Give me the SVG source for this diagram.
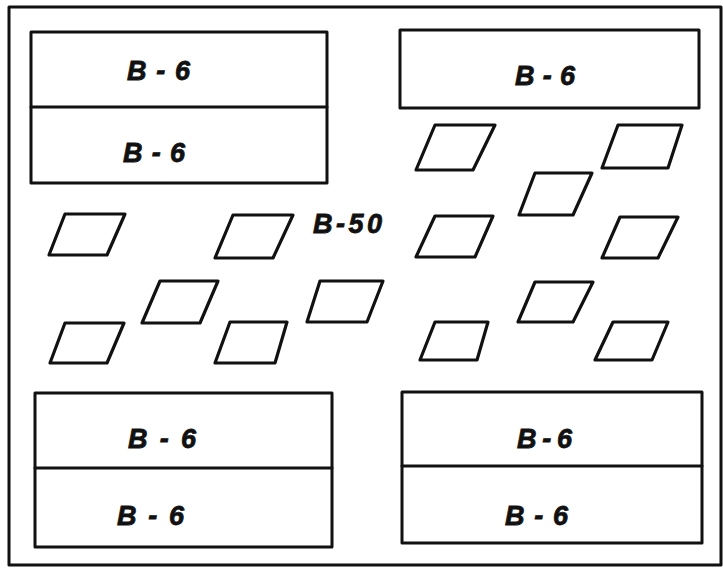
<svg xmlns="http://www.w3.org/2000/svg" width="723" height="569" viewBox="0 0 723 569">
<style>
.b{fill:none;stroke:#111;stroke-width:3;stroke-linejoin:round;stroke-linecap:round}
.p{fill:none;stroke:#111;stroke-width:3.2;stroke-linejoin:round;stroke-linecap:round}
.t{font-family:"Liberation Sans",Arial,sans-serif;font-weight:bold;font-style:italic;font-size:27px;fill:#111;stroke:#111;stroke-width:0.8}
</style>
<rect width="723" height="569" fill="#fff"/>
<g id="frame"><rect class="b" x="9" y="7" width="712" height="558"/></g>
<g id="box-top-left">
<rect class="b" x="31" y="32" width="296" height="151"/>
<line class="b" x1="31" y1="107" x2="327" y2="107"/>
<text class="t" x="127" y="80" textLength="63" lengthAdjust="spacing">B-6</text>
<text class="t" x="123" y="162" textLength="62" lengthAdjust="spacing">B-6</text>
</g>
<g id="box-top-right">
<rect class="b" x="400" y="30" width="299" height="78"/>
<text class="t" x="515" y="85" textLength="60" lengthAdjust="spacing">B-6</text>
</g>
<g id="box-bottom-left">
<rect class="b" x="35" y="393" width="297" height="154"/>
<line class="b" x1="35" y1="468" x2="332" y2="468"/>
<text class="t" x="128" y="448" textLength="68" lengthAdjust="spacing">B-6</text>
<text class="t" x="117" y="525" textLength="67" lengthAdjust="spacing">B-6</text>
</g>
<g id="box-bottom-right">
<rect class="b" x="402" y="392" width="300" height="151"/>
<line class="b" x1="402" y1="466" x2="702" y2="466"/>
<text class="t" x="517" y="448" textLength="55" lengthAdjust="spacing">B-6</text>
<text class="t" x="505" y="525" textLength="63" lengthAdjust="spacing">B-6</text>
</g>
<g id="label-b50">
<text class="t" x="313" y="233" font-size="24" textLength="69" lengthAdjust="spacing">B-50</text>
</g>
<g id="pads-left">
<polygon class="p" points="65,214 125,214 107,255 49,255"/>
<polygon class="p" points="233,215 293,215 273,258 215,258"/>
<polygon class="p" points="160,281 218,281 200,323 142,323"/>
<polygon class="p" points="320,281 383,281 367,322 307,322"/>
<polygon class="p" points="65,323 124,323 107,363 50,363"/>
<polygon class="p" points="230,322 287,322 275,363 215,363"/>
</g>
<g id="pads-right">
<polygon class="p" points="435,125 495,125 473,170 416,170"/>
<polygon class="p" points="618,125 682,125 668,168 602,168"/>
<polygon class="p" points="535,173 592,173 573,215 519,215"/>
<polygon class="p" points="435,216 493,216 475,257 416,257"/>
<polygon class="p" points="620,217 678,217 658,258 602,258"/>
<polygon class="p" points="535,282 593,282 573,322 518,322"/>
<polygon class="p" points="435,322 488,322 477,360 420,360"/>
<polygon class="p" points="613,322 668,322 652,360 595,360"/>
</g>
</svg>
